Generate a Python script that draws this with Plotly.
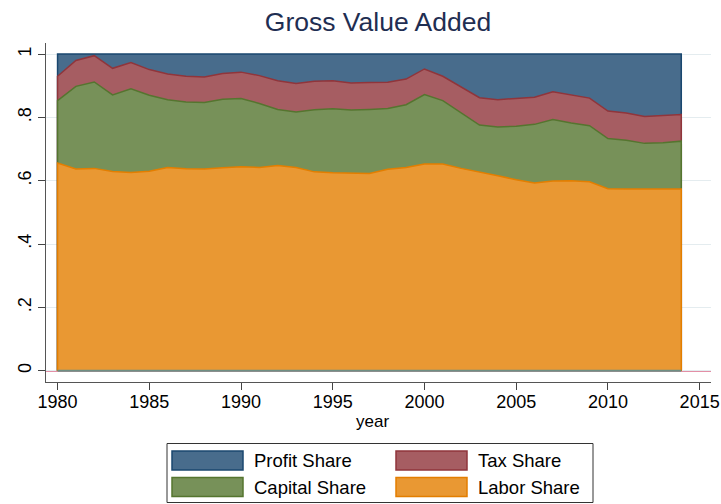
import numpy as np
import plotly.graph_objects as go

years = list(range(1980, 2015))
labor_share = [0.656, 0.637, 0.639, 0.629, 0.626, 0.630, 0.642, 0.638, 0.637, 0.641,
               0.644, 0.642, 0.648, 0.642, 0.628, 0.625, 0.623, 0.623, 0.636, 0.642,
               0.653, 0.653, 0.639, 0.628, 0.616, 0.603, 0.593, 0.599, 0.600, 0.597,
               0.575, 0.574, 0.574, 0.574, 0.574]
capital_share = [0.197, 0.261, 0.273, 0.242, 0.264, 0.240, 0.214, 0.211, 0.210, 0.216,
                 0.216, 0.202, 0.177, 0.175, 0.196, 0.202, 0.200, 0.202, 0.192, 0.198,
                 0.219, 0.200, 0.176, 0.148, 0.154, 0.169, 0.185, 0.194, 0.182, 0.177,
                 0.158, 0.154, 0.144, 0.146, 0.151]
tax_share = [0.077, 0.082, 0.083, 0.084, 0.083, 0.081, 0.081, 0.081, 0.081, 0.082,
             0.083, 0.088, 0.091, 0.090, 0.090, 0.089, 0.086, 0.085, 0.083, 0.081,
             0.081, 0.077, 0.081, 0.086, 0.086, 0.087, 0.086, 0.088, 0.088, 0.087,
             0.087, 0.086, 0.085, 0.086, 0.084]
profit_share = [0.070, 0.020, 0.005, 0.045, 0.027, 0.049, 0.063, 0.070, 0.072, 0.061,
                0.057, 0.068, 0.084, 0.093, 0.086, 0.084, 0.091, 0.090, 0.089, 0.079,
                0.047, 0.070, 0.104, 0.138, 0.144, 0.141, 0.136, 0.119, 0.130, 0.139,
                0.180, 0.186, 0.197, 0.194, 0.191]
zero_line = [0.0] * len(years)

y_ticks = [0, 0.2, 0.4, 0.6, 0.8, 1]
y_tick_labels = ["0", ".2", ".4", ".6", ".8", "1"]
x_ticks = [1980, 1985, 1990, 1995, 2000, 2005, 2010, 2015]

FONT = "Liberation Sans, Arial, sans-serif"

series = [
    ("Profit Share", profit_share, "#1a476f", "rgb(72,108,140)"),
    ("Tax Share", tax_share, "#90353b", "rgb(166,93,98)"),
    ("Capital Share", capital_share, "#55752f", "rgb(119,145,89)"),
    ("Labor Share", labor_share, "#e37e00", "rgb(233,152,51)"),
]

# cumulative tops (stack order: labor, capital, tax, profit)
lab = np.array(labor_share)
cap_top = lab + np.array(capital_share)
tax_top = cap_top + np.array(tax_share)
prof_top = tax_top + np.array(profit_share)
tops = {"Profit Share": prof_top, "Tax Share": tax_top,
        "Capital Share": cap_top, "Labor Share": lab}

fig = go.Figure()
for name, vals, lc, fc in series:
    top = tops[name]
    xs = [years[0]] + years + [years[-1]]
    ys = [0.0] + list(top) + [0.0]
    fig.add_trace(go.Scatter(x=xs, y=ys, mode="lines", fill="toself",
                             fillcolor=fc, line=dict(color=lc, width=1.5),
                             name=name, showlegend=False, hoverinfo="skip"))

fig.add_trace(go.Scatter(x=years, y=zero_line, mode="lines",
                         line=dict(color="#6e8e84", width=2),
                         showlegend=False, hoverinfo="skip"))

# layout geometry (pixels)
W, H = 721, 504
L, R, T, B = 46, 10, 43, 122
PW, PH = W - L - R, H - T - B


def px(x):
    return (x - L) / PW


def py(y):
    return (H - B - y) / PH


shapes = [
    dict(type="line", xref="paper", yref="y", x0=0, x1=1, y0=0, y1=0,
         line=dict(color="#c8204f", width=1.5), layer="below"),
    # legend box
    dict(type="rect", xref="paper", yref="paper", x0=px(167), x1=px(593),
         y0=py(502.5), y1=py(443.5), line=dict(color="#333333", width=1),
         fillcolor="white"),
]
annotations = []
legend_pos = [
    ("Profit Share", 172, 451),
    ("Tax Share", 396, 451),
    ("Capital Share", 172, 477.5),
    ("Labor Share", 396, 477.5),
]
colors = {n: (lc, fc) for n, _, lc, fc in series}
for name, x0, y0 in legend_pos:
    lc, fc = colors[name]
    shapes.append(dict(type="rect", xref="paper", yref="paper",
                       x0=px(x0), x1=px(x0 + 71), y0=py(y0 + 19), y1=py(y0),
                       line=dict(color=lc, width=1.5), fillcolor=fc))
    annotations.append(dict(xref="paper", yref="paper", x=px(x0 + 80),
                            y=py(y0 + 9.5), text=name, showarrow=False,
                            xanchor="left", yanchor="middle",
                            font=dict(family=FONT, size=18.5, color="black")))

annotations.append(dict(xref="paper", yref="paper", x=px(372), y=py(422),
                        text="year", showarrow=False, xanchor="center",
                        yanchor="middle",
                        font=dict(family=FONT, size=17, color="black")))

fig.update_layout(
    width=W, height=H,
    margin=dict(l=L, r=R, t=T, b=B, autoexpand=False),
    paper_bgcolor="white", plot_bgcolor="white",
    title=dict(text="Gross Value Added", x=px(378), xref="paper",
               y=1 - 22 / H, yref="container", yanchor="middle",
               xanchor="center",
               font=dict(family=FONT, size=26.5, color="#1f2e52")),
    shapes=shapes, annotations=annotations,
    showlegend=False,
    font=dict(family=FONT, size=17, color="black"),
)
fig.update_xaxes(range=[1979.37, 2015.62], tickvals=x_ticks,
                 ticks="outside", ticklen=7, tickcolor="#444444",
                 showline=True, linecolor="#555555", linewidth=1.2,
                 showgrid=False, zeroline=False, automargin=False,
                 ticklabelstandoff=-4,
                 tickfont=dict(family=FONT, size=18, color="black"))
fig.update_yaxes(range=[-0.0357, 1.035], tickvals=y_ticks,
                 ticktext=y_tick_labels, tickangle=-90,
                 ticks="outside", ticklen=7, tickcolor="#444444",
                 showline=True, linecolor="#555555", linewidth=1.2,
                 showgrid=True, gridcolor="#e4ecef", gridwidth=1.2,
                 zeroline=False, automargin=False,
                 tickfont=dict(family=FONT, size=18, color="black"))

fig.write_html("out.html",
               config={"displayModeBar": False},
               post_script="document.body.style.margin='0';"
                           "document.body.style.padding='0';")
